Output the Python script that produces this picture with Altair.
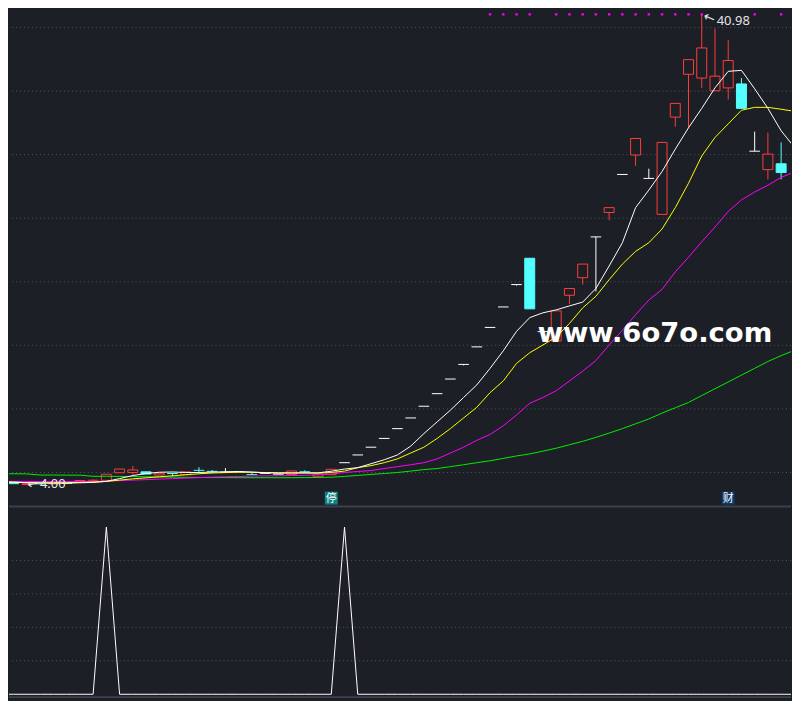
import altair as alt
import pandas as pd

# ---------------- data ----------------
idx = list(range(60))
open_ = [4.30, 4.23, 4.05, 4.14, 4.10, 4.16, 4.31, 4.34, 4.38, 4.98,
         5.00, 5.05, 4.80, 4.95, 4.83, 5.20, 5.12, 5.02, 5.05, 4.87,
         4.93, 4.87, 4.85, 5.10, 4.67, 4.83, 5.77, 6.38, 6.99, 7.68,
         8.45, 9.29, 10.21, 11.20, 12.35, 13.50, 14.88, 16.41, 18.02, 19.78,
         21.85, 16.08, 15.34, 18.94, 20.32, 23.53, 25.45, 28.44, 29.97, 28.13,
         25.30, 32.95, 36.32, 36.02, 35.02, 35.25, 35.56, 30.27, 28.82, 29.28]
high = [4.31, 4.24, 4.13, 4.16, 4.19, 4.18, 4.38, 4.47, 4.86, 5.28,
        5.50, 5.06, 4.95, 4.96, 5.06, 5.42, 5.20, 5.35, 5.06, 4.96,
        4.94, 4.88, 5.13, 5.18, 4.87, 5.25, 5.77, 6.38, 6.99, 7.68,
        8.45, 9.29, 10.21, 11.20, 12.35, 13.50, 14.88, 16.41, 18.02, 19.78,
        21.85, 16.08, 17.71, 19.47, 21.39, 23.53, 25.83, 28.44, 31.27, 28.89,
        30.96, 34.03, 37.47, 40.98, 39.92, 39.00, 36.02, 31.81, 31.73, 30.96]
low = [4.25, 4.10, 4.00, 4.08, 4.08, 4.14, 4.30, 4.32, 4.38, 4.97,
       4.82, 4.87, 4.79, 4.70, 4.82, 4.96, 4.96, 5.00, 5.04, 4.82,
       4.92, 4.86, 4.84, 4.97, 4.60, 4.82, 5.77, 6.38, 6.99, 7.68,
       8.45, 9.29, 10.21, 11.20, 12.35, 13.42, 14.88, 16.41, 18.02, 19.70,
       17.87, 16.08, 15.34, 18.25, 19.78, 19.24, 24.84, 28.44, 29.12, 28.13,
       25.30, 32.19, 32.11, 35.25, 35.02, 34.33, 33.64, 30.27, 28.05, 28.05]
close = [4.27, 4.12, 4.12, 4.10, 4.17, 4.16, 4.37, 4.39, 4.86, 5.27,
         5.20, 4.88, 4.94, 4.92, 5.05, 5.17, 5.09, 5.02, 5.05, 4.83,
         4.93, 4.87, 5.12, 5.06, 4.86, 5.25, 5.77, 6.38, 6.99, 7.68,
         8.45, 9.29, 10.21, 11.20, 12.35, 13.50, 14.88, 16.41, 18.02, 19.78,
         17.87, 16.08, 17.71, 19.47, 21.39, 23.53, 25.83, 28.44, 31.27, 28.13,
         30.96, 34.03, 37.47, 38.39, 36.17, 37.40, 33.64, 30.27, 30.04, 28.59]

ma_idx = list(range(61))
ma5 = [4.29, 4.25, 4.20, 4.17, 4.15, 4.16, 4.19, 4.22, 4.30, 4.52,
       4.76, 4.92, 5.02, 5.04, 5.00, 5.00, 5.03, 5.06, 5.08, 5.04,
       4.98, 4.95, 4.96, 4.97, 4.97, 5.10,
       5.27, 5.38, 5.69, 6.00, 6.38, 7.07, 8.06, 8.98, 9.90, 10.90,
       11.89, 13.19, 14.57, 16.10, 17.18, 17.56, 17.79, 18.10, 18.40, 19.47,
       21.24, 23.07, 25.83, 27.21, 28.67, 30.43, 32.11, 33.64, 35.25, 36.55,
       36.63, 35.18, 33.64, 31.88, 30.58]
ma10 = [4.22, 4.22, 4.21, 4.20, 4.20, 4.20, 4.22, 4.25, 4.30, 4.40,
        4.50, 4.58, 4.66, 4.74, 4.82, 4.90, 4.96, 4.99, 5.02, 5.01,
        5.00, 4.98, 4.97, 4.96, 4.95, 5.00,
        5.11, 5.38, 5.54, 5.77, 6.07, 6.53, 6.99, 7.68, 8.45, 9.29,
        10.13, 11.28, 12.20, 13.58, 14.42, 15.03, 15.65, 16.72, 17.94, 18.86,
        20.16, 21.39, 22.39, 23.07, 24.15, 25.83, 27.75, 29.89, 31.35, 32.42,
        33.49, 33.72, 33.72, 33.57, 33.41]
ma20 = [4.30, 4.30, 4.30, 4.29, 4.29, 4.29, 4.30, 4.30, 4.32, 4.36,
        4.40, 4.44, 4.48, 4.52, 4.56, 4.60, 4.63, 4.66, 4.68, 4.72,
        4.73, 4.74, 4.76, 4.78, 4.81, 4.88,
        5.00, 5.08, 5.15, 5.31, 5.46, 5.61, 5.77, 6.07, 6.53, 6.99,
        7.53, 7.99, 8.68, 9.52, 10.44, 10.90, 11.43, 12.20, 12.97, 13.81,
        15.03, 16.18, 17.41, 18.56, 19.40, 20.78, 21.93, 23.15, 24.30, 25.53,
        26.44, 27.06, 27.59, 28.21, 28.63]
ma60 = [4.90, 4.90, 4.89, 4.80, 4.80, 4.79, 4.79, 4.70, 4.70, 4.69,
        4.68, 4.66, 4.65, 4.64, 4.62, 4.61, 4.60, 4.60, 4.59, 4.59,
        4.59, 4.59, 4.59, 4.60, 4.61, 4.63,
        4.69, 4.77, 4.85, 4.92, 5.00, 5.11, 5.23, 5.31, 5.46, 5.61,
        5.77, 5.92, 6.11, 6.30, 6.46, 6.68, 6.91, 7.18, 7.45, 7.76,
        8.10, 8.45, 8.83, 9.21, 9.67, 10.09, 10.51, 11.05, 11.59, 12.12,
        12.66, 13.19, 13.73, 14.19, 14.61]

signal = [0, 0, 0, 0, 0, 0, 0, 0, 100, 0,
          0, 0, 0, 0, 0, 0, 0, 0, 0, 0,
          0, 0, 0, 0, 0, 0, 100, 0, 0, 0,
          0, 0, 0, 0, 0, 0, 0, 0, 0, 0,
          0, 0, 0, 0, 0, 0, 0, 0, 0, 0,
          0, 0, 0, 0, 0, 0, 0, 0, 0, 0, 0]

dot_idx = [37, 38, 39, 40, 42, 43, 44, 45, 46, 47, 48, 49, 50, 51, 52, 53, 57, 59]
grid_up = [5, 10, 15, 20, 25, 30, 35, 40]
grid_low = [20, 40, 60, 80]
marker_idx = [25, 55]
marker_txt = ["停", "财"]
marker_kind = ["stop", "fin"]
watermark = "www.6o7o.com"

# ---------------- styles ----------------
BG = "#1c1f26"
RED = "#ff3c3c"
CYAN = "#54ffff"
WHITE = "#ffffff"
GRID = "#50555f"
SEP = "#3c414b"
LABEL = "#e4e4e4"
W, H_UP, H_LOW = 784, 494, 195

cd = pd.DataFrame({"i": idx, "o": open_, "h": high, "l": low, "c": close})
cd["kind"] = ["up" if c > o else ("down" if c < o else "flat") for o, c in zip(open_, close)]
cd["thin"] = [abs(c - o) < 0.05 for o, c in zip(open_, close)]
cd["xl"] = cd["i"] - 0.4
cd["xr"] = cd["i"] + 0.4

ma = pd.DataFrame({"i": ma_idx, "ma5": ma5, "ma10": ma10, "ma20": ma20, "ma60": ma60})
sig = pd.DataFrame({"i": ma_idx, "s": signal})
dots = pd.DataFrame({"i": dot_idx})
mk = pd.DataFrame({"i": marker_idx, "t": marker_txt, "k": marker_kind})

imax = high.index(max(high))
imin = low.index(min(low))
hl = pd.DataFrame({"i": [imax], "v": [high[imax]], "t": [f"{high[imax]:.2f}"]})
ll = pd.DataFrame({"i": [imin], "v": [low[imin]], "t": [f"{low[imin]:.2f}"]})

xs = alt.Scale(domain=[0.642, 59.746], nice=False, zero=False, padding=0)
ys = alt.Scale(domain=[2.395, 41.149], nice=False, zero=False, padding=0)
yl = alt.Scale(domain=[-3.51, 112.87], nice=False, zero=False, padding=0)
kcol = alt.Scale(domain=["up", "down", "flat"], range=[RED, CYAN, WHITE])


def X(f="i"):
    return alt.X(f"{f}:Q", scale=xs, axis=None)


def Y(f, sc=ys):
    return alt.Y(f"{f}:Q", scale=sc, axis=None)


grid1 = alt.Chart(pd.DataFrame({"g": grid_up})).mark_rule(
    color=GRID, strokeWidth=1, strokeDash=[1, 3]).encode(y=Y("g"))

wick = alt.Chart(cd).mark_rule(strokeWidth=1, clip=True).encode(
    x=X(), y=Y("l"), y2="h:Q", color=alt.Color("kind:N", scale=kcol, legend=None))

body = alt.Chart(cd).transform_filter("!datum.thin").mark_bar(
    size=10, strokeWidth=1, clip=True).encode(
    x=X(), y=Y("o"), y2="c:Q",
    fill=alt.Fill("kind:N", scale=alt.Scale(domain=["up", "down"], range=[BG, CYAN]), legend=None),
    stroke=alt.Stroke("kind:N", scale=alt.Scale(domain=["up", "down"], range=[RED, CYAN]), legend=None))

flat = alt.Chart(cd).transform_filter("datum.thin").mark_rule(strokeWidth=1, clip=True).encode(
    x=X("xl"), x2="xr:Q", y=Y("c"), color=alt.Color("kind:N", scale=kcol, legend=None))

lines = [
    alt.Chart(ma).mark_line(color=col, strokeWidth=1, clip=True).encode(x=X(), y=Y(f))
    for f, col in [("ma60", "#00ee00"), ("ma20", "#ff00ff"), ("ma10", "#ffff00"), ("ma5", WHITE)]
]

topdots = alt.Chart(dots).mark_square(size=6, color="#ff00ff", opacity=1, clip=True).encode(
    x=X(), y=alt.value(1.5))

mk_box = alt.Chart(mk).mark_square(size=169, opacity=1).encode(
    x=X(), y=alt.value(486.5),
    color=alt.Color("k:N", scale=alt.Scale(domain=["stop", "fin"], range=["#0b8383", "#0c3b6b"]),
                    legend=None))
mk_txt = alt.Chart(mk).mark_text(font="Noto Sans CJK SC", fontSize=11, color=WHITE,
                                 baseline="middle", align="center").encode(
    x=X(), y=alt.value(487), text="t:N")

hi_arrow = alt.Chart(hl).mark_text(text="←", angle=23, dx=8, align="center", baseline="middle",
                                   fontSize=14, font="DejaVu Sans", color=LABEL).encode(x=X(), y=Y("v"))
hi_text = alt.Chart(hl).mark_text(align="left", baseline="middle", dx=15, dy=6, fontSize=13,
                                  font="Noto Sans", color=LABEL).encode(x=X(), y=Y("v"), text="t:N")
lo_arrow = alt.Chart(ll).mark_text(text="←", angle=350, dx=6, align="center", baseline="middle",
                                   fontSize=13, font="DejaVu Sans", color=LABEL).encode(x=X(), y=Y("v"))
lo_text = alt.Chart(ll).mark_text(align="left", baseline="middle", dx=13, dy=-1, fontSize=13,
                                  font="Noto Sans", color=LABEL).encode(x=X(), y=Y("v"), text="t:N")

wm = alt.Chart(pd.DataFrame({"t": [watermark]})).mark_text(
    font="DejaVu Sans", fontWeight="bold", fontSize=27.5, color=WHITE,
    align="left", baseline="alphabetic").encode(x=alt.value(530), y=alt.value(330), text="t:N")

upper = alt.layer(grid1, wick, body, flat, *lines, topdots, mk_box, mk_txt,
                  hi_arrow, hi_text, lo_arrow, lo_text, wm).resolve_scale(
    color="independent").properties(width=W, height=H_UP)

one = pd.DataFrame({"a": [0]})
sep_top = alt.Chart(one).mark_rule(color=SEP, strokeWidth=2).encode(
    x=alt.value(0), x2=alt.value(W), y=alt.value(1))
sep_bot = alt.Chart(one).mark_rule(color=SEP, strokeWidth=2).encode(
    x=alt.value(0), x2=alt.value(W), y=alt.value(192))
grid2 = alt.Chart(pd.DataFrame({"g": grid_low})).mark_rule(
    color=GRID, strokeWidth=1, strokeDash=[1, 3]).encode(y=Y("g", yl))
sigline = alt.Chart(sig).mark_line(color=WHITE, strokeWidth=1, clip=True).encode(
    x=X(), y=Y("s", yl))

lower = alt.layer(grid2, sep_top, sep_bot, sigline).properties(width=W, height=H_LOW)

chart = alt.vconcat(upper, lower, spacing=0).properties(
    background=BG, padding=0).configure_view(strokeWidth=0)

chart.save("out.html", embed_options={"renderer": "svg", "actions": False})
